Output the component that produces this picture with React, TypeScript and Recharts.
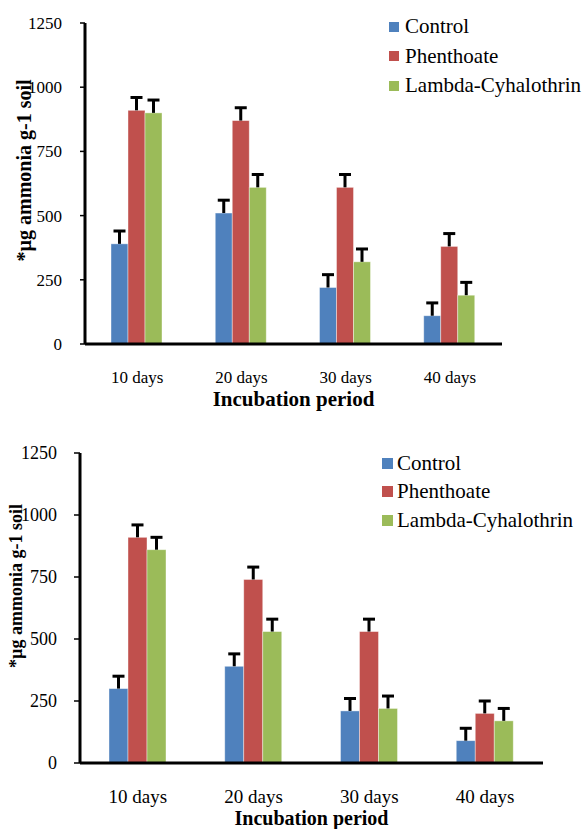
import React from 'react';
import { BarChart, Bar, XAxis, YAxis, Legend } from 'recharts';

const FONT = "'Liberation Serif', 'DejaVu Serif', serif";

const categories = ['10 days', '20 days', '30 days', '40 days'];
const yTicks = [0, 250, 500, 750, 1000, 1250];
const seriesNames = ['Control', 'Phenthoate', 'Lambda-Cyhalothrin'];
const seriesColors = ['#4F81BD', '#C0504D', '#9BBB59'];
const yTitle = '*µg ammonia g-1 soil';
const xTitle = 'Incubation period';

// Upper panel
const control1 = [390, 510, 220, 110];
const phenthoate1 = [910, 870, 610, 380];
const lambda1 = [900, 610, 320, 190];
const controlErr1 = [50, 50, 50, 50];
const phenthoateErr1 = [50, 50, 50, 50];
const lambdaErr1 = [50, 50, 50, 50];

// Lower panel
const control2 = [300, 390, 210, 90];
const phenthoate2 = [910, 740, 530, 200];
const lambda2 = [860, 530, 220, 170];
const controlErr2 = [50, 50, 50, 50];
const phenthoateErr2 = [50, 50, 50, 50];
const lambdaErr2 = [50, 50, 50, 50];

function buildRows(c: number[], p: number[], l: number[], ce: number[], pe: number[], le: number[]) {
  return categories.map((name, i) => ({
    name,
    control: c[i],
    phenthoate: p[i],
    lambda: l[i],
    controlErr: ce[i],
    phenthoateErr: pe[i],
    lambdaErr: le[i],
  }));
}

const rows1 = buildRows(control1, phenthoate1, lambda1, controlErr1, phenthoateErr1, lambdaErr1);
const rows2 = buildRows(control2, phenthoate2, lambda2, controlErr2, phenthoateErr2, lambdaErr2);

const seriesKeys = ['control', 'phenthoate', 'lambda'];

function makeShape(valueKey: string, errKey: string, capWidth: number) {
  return (props: any) => {
    const { x, y, width, height, fill, payload } = props;
    const v = payload[valueKey];
    const err = payload[errKey];
    const ppu = v ? height / v : 0;
    const cx = x + width / 2;
    const top = y - err * ppu;
    return (
      <g>
        <rect x={x} y={y} width={width} height={height} fill={fill} stroke="#ffffff" strokeOpacity={0.5} strokeWidth={0.8} />
        <line x1={cx} x2={cx} y1={y} y2={top} stroke="#000" strokeWidth={3} />
        <line x1={cx - capWidth / 2} x2={cx + capWidth / 2} y1={top} y2={top} stroke="#000" strokeWidth={3} />
      </g>
    );
  };
}

type Cfg = {
  data: any[];
  width: number;
  height: number;
  margin: { top: number; right: number; left: number; bottom: number };
  yAxisWidth: number;
  xAxisHeight: number;
  xTickFont: number;
  yTickFont: number;
  xTickMargin: number;
  yTickSize: number;
  yTickMargin: number;
  yTitleFont: number;
  yTitleDx: number;
  yTitleDy: number;
  xTitleFont: number;
  xTitleBaseline: number;
  legendLeft: number;
  legendTop: number;
  legendRow: number;
  legendFont: number;
  legendSquare: number;
  legendGap: number;
  catGap: number;
  cap: number;
};

function Panel({ cfg }: { cfg: Cfg }) {
  const yLabel = (props: any) => {
    const vb = props.viewBox || {};
    const cx = vb.x + cfg.yTitleDx;
    const cy = vb.y + vb.height / 2 + cfg.yTitleDy;
    return (
      <text
        x={cx}
        y={cy}
        transform={`rotate(-90, ${cx}, ${cy})`}
        textAnchor="middle"
        dominantBaseline="central"
        style={{ fontFamily: FONT }}
        fontWeight="bold"
        fontSize={cfg.yTitleFont}
        fill="#000"
      >
        {yTitle}
      </text>
    );
  };
  const xLabel = (props: any) => {
    const vb = props.viewBox || {};
    return (
      <text
        x={vb.x + vb.width / 2}
        y={vb.y + cfg.xTitleBaseline}
        textAnchor="middle"
        style={{ fontFamily: FONT }}
        fontWeight="bold"
        fontSize={cfg.xTitleFont}
        fill="#000"
      >
        {xTitle}
      </text>
    );
  };
  const legendContent = (props: any) => {
    const payload = [...(props.payload || [])].sort(
      (a: any, b: any) => seriesNames.indexOf(a.value) - seriesNames.indexOf(b.value)
    );
    return (
      <div style={{ fontFamily: FONT, fontSize: cfg.legendFont, color: '#000' }}>
        {payload.map((e: any) => (
          <div
            key={e.value}
            style={{ display: 'flex', alignItems: 'center', height: cfg.legendRow, whiteSpace: 'nowrap' }}
          >
            <span
              style={{
                display: 'inline-block',
                width: cfg.legendSquare,
                height: cfg.legendSquare,
                background: e.color,
                marginRight: cfg.legendGap,
              }}
            />
            <span>{e.value}</span>
          </div>
        ))}
      </div>
    );
  };

  return (
    <BarChart
      width={cfg.width}
      height={cfg.height}
      data={cfg.data}
      margin={cfg.margin}
      barGap={0}
      barCategoryGap={cfg.catGap}
      style={{ fontFamily: FONT }}
    >
      <XAxis
        dataKey="name"
        interval={0}
        tickLine={false}
        tickSize={0}
        tickMargin={cfg.xTickMargin}
        height={cfg.xAxisHeight}
        axisLine={{ stroke: '#000', strokeWidth: 3 }}
        tick={{ fill: '#000', fontSize: cfg.xTickFont, fontFamily: FONT }}
        label={{ content: xLabel }}
      />
      <YAxis
        domain={[0, 1250]}
        ticks={yTicks}
        interval={0}
        width={cfg.yAxisWidth}
        tickSize={cfg.yTickSize}
        tickMargin={cfg.yTickMargin}
        tickLine={{ stroke: '#000', strokeWidth: 1.5 }}
        axisLine={{ stroke: '#000', strokeWidth: 3 }}
        tick={{ fill: '#000', fontSize: cfg.yTickFont, fontFamily: FONT }}
        label={{ content: yLabel }}
      />
      <Legend
        layout="vertical"
        align="center"
        verticalAlign="middle"
        itemSorter={null as any}
        content={legendContent}
        wrapperStyle={{ left: cfg.legendLeft, top: cfg.legendTop, width: 'auto', height: 'auto' }}
      />
      {seriesKeys.map((k, i) => (
        <Bar
          key={k}
          dataKey={k}
          name={seriesNames[i]}
          fill={seriesColors[i]}
          isAnimationActive={false}
          shape={makeShape(k, k + 'Err', cfg.cap)}
        />
      ))}
    </BarChart>
  );
}

const cfgTop: Cfg = {
  data: rows1,
  width: 586,
  height: 420,
  margin: { top: 23, right: 84, left: 0, bottom: 0 },
  yAxisWidth: 85,
  xAxisHeight: 76,
  xTickFont: 17,
  yTickFont: 17,
  xTickMargin: 27,
  yTickSize: 5,
  yTickMargin: 18,
  yTitleFont: 20,
  yTitleDx: 24,
  yTitleDy: -13,
  xTitleFont: 21,
  xTitleBaseline: 62,
  legendLeft: 389,
  legendTop: 12,
  legendRow: 29.5,
  legendFont: 21,
  legendSquare: 10,
  legendGap: 6,
  catGap: 26,
  cap: 12,
};

const cfgBottom: Cfg = {
  data: rows2,
  width: 586,
  height: 399,
  margin: { top: 23, right: 43, left: 0, bottom: 0 },
  yAxisWidth: 80,
  xAxisHeight: 66,
  xTickFont: 19,
  yTickFont: 18,
  xTickMargin: 27,
  yTickSize: 6,
  yTickMargin: 17,
  yTitleFont: 18,
  yTitleDx: 16,
  yTitleDy: -22,
  xTitleFont: 20,
  xTitleBaseline: 62,
  legendLeft: 382,
  legendTop: 19,
  legendRow: 28.5,
  legendFont: 21,
  legendSquare: 11,
  legendGap: 4,
  catGap: 29,
  cap: 12,
};

export default function App() {
  return (
    <div style={{ position: 'absolute', left: 0, top: 0, width: 586, height: 829, background: '#fff', overflow: 'hidden', fontFamily: FONT }}>
      <div style={{ position: 'absolute', left: 0, top: 0 }}>
        <Panel cfg={cfgTop} />
      </div>
      <div style={{ position: 'absolute', left: 0, top: 430 }}>
        <Panel cfg={cfgBottom} />
      </div>
    </div>
  );
}
